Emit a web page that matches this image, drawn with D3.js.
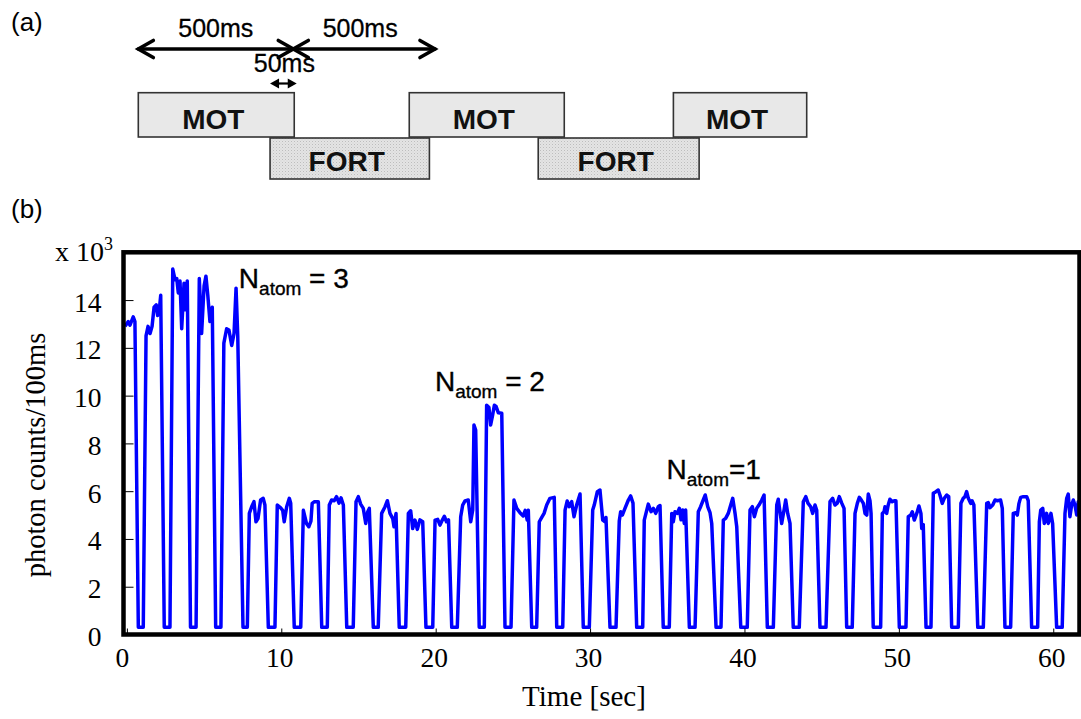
<!DOCTYPE html>
<html>
<head>
<meta charset="utf-8">
<script src="https://cdn.jsdelivr.net/npm/d3@7"></script>
<style>
  body { margin: 0; background: #fff; }
  svg { display: block; }
</style>
</head>
<body>
<svg id="fig" width="1081" height="719"></svg>
<script>
// ---- Timing sequence (ms) ----
const motWindows  = [[0, 503], [874, 1374], [1726, 2156]];
const fortWindows = [[425, 939], [1290, 1809]];
const periodArrows = [[0, 500, "500ms"], [500, 957, "500ms"]];
const overlapArrow = [425, 511, "50ms"];

// ---- Fluorescence trace: [time (s), photon counts per 100 ms (x10^3)] ----
const traceThreeAtoms = [
  [-0.12,12.9],[0.09,13.1],[0.20,12.95],[0.41,13.3],[0.52,13.1],[0.74,0.3],[1.06,0.3],
  [1.24,12.5],[1.37,12.9],[1.50,12.6],[1.63,12.9],[1.76,13.7],[1.90,13.8],[1.99,13.35],[2.10,13.6],[2.19,14.2],[2.42,0.3],[2.79,0.3],
  [2.97,15.3],[3.12,14.85],[3.23,14.9],[3.33,14.3],[3.44,14.8],[3.55,12.8],[3.70,14.7],[3.80,13.6],[3.91,14.8],[4.12,0.3],[4.48,0.3],
  [4.69,14.9],[4.84,12.6],[5.00,14.6],[5.12,15.0],[5.24,14.2],[5.38,13.1],[5.53,13.7],[5.75,0.3],[6.09,0.3],
  [6.28,12.2],[6.46,12.8],[6.61,12.75],[6.79,12.1],[6.94,12.6],[7.07,14.5],[7.18,12.5],[7.52,0.3],[7.80,0.3]
];
const traceMiddle = [
  [7.93,5.07],[8.08,5.35],[8.23,5.56],[8.36,4.72],[8.49,4.85],[8.66,5.63],[8.83,5.70],[8.94,5.42],[9.16,0.3],[9.59,0.3],
  [9.74,5.42],[9.96,5.30],[10.09,5.20],[10.19,4.72],[10.35,5.35],[10.52,5.70],[10.61,5.50],[10.84,0.3],[11.26,0.3],
  [11.43,5.20],[11.54,4.90],[11.63,4.65],[11.78,4.51],[11.92,4.75],[12.00,5.49],[12.15,5.56],[12.40,5.56],[12.62,0.3],[12.98,0.3],
  [13.11,5.42],[13.26,5.63],[13.43,5.60],[13.58,5.77],[13.74,5.50],[13.87,5.72],[14.02,5.42],[14.24,0.3],[14.66,0.3],
  [14.84,5.56],[14.99,5.77],[15.14,5.46],[15.31,5.28],[15.47,4.65],[15.60,5.14],[15.70,5.28],[15.96,0.3],[16.28,0.3],
  [16.50,5.07],[16.72,5.35],[16.87,5.60],[17.04,5.07],[17.22,4.85],[17.30,4.51],[17.43,5.07],[17.64,0.3],[18.06,0.3],
  [18.23,5.07],[18.38,5.18],[18.51,4.44],[18.66,4.79],[18.81,4.40],[18.98,4.80],[19.16,4.72],[19.37,0.3],[19.81,0.3],
  [19.96,4.79],[20.13,4.82],[20.28,4.58],[20.43,4.79],[20.56,4.95],[20.70,4.72],[20.83,4.80],[21.04,0.3],[21.40,0.3],
  [21.62,4.93],[21.75,5.42],[21.90,5.59],[22.11,5.63],[22.27,4.72],[22.40,5.21],[22.48,8.77],[22.59,8.56],[22.82,0.3],[23.15,0.3],
  [23.30,9.60],[23.45,9.50],[23.56,8.77],[23.69,9.19],[23.80,9.60],[23.91,9.55],[24.06,9.28],[24.28,9.26],[24.49,0.3],[24.88,0.3]
];
const traceOneAtom = [
  [25.07,5.63],[25.25,5.28],[25.46,5.10],[25.67,4.96],[25.80,5.20],[25.93,4.79],[26.00,5.20],[26.22,0.3],[26.54,0.3],
  [26.71,4.72],[26.87,4.90],[27.02,5.07],[27.19,5.42],[27.40,5.70],[27.68,5.74],[27.84,0.3],[28.23,0.3],
  [28.38,5.21],[28.52,5.59],[28.65,5.35],[28.81,5.56],[28.96,4.93],[29.13,5.42],[29.35,5.88],[29.56,0.3],[29.95,0.3],
  [30.17,5.21],[30.27,5.42],[30.47,5.98],[30.64,6.05],[30.82,4.79],[30.97,4.72],[31.03,4.90],[31.29,0.3],[31.68,0.3],
  [31.89,4.75],[31.98,5.14],[32.09,5.00],[32.26,5.28],[32.48,5.63],[32.63,5.80],[32.78,5.50],[33.02,0.3],[33.41,0.3],
  [33.51,4.79],[33.62,5.07],[33.77,5.46],[33.95,5.14],[34.10,5.28],[34.25,5.07],[34.42,5.35],[34.53,5.40],[34.74,0.3],[35.13,0.3],
  [35.29,5.07],[35.39,4.72],[35.50,5.14],[35.65,5.07],[35.78,5.28],[35.89,4.80],[36.00,5.21],[36.10,4.65],[36.19,5.21],[36.43,0.3],[36.80,0.3],
  [37.01,5.14],[37.16,5.35],[37.33,5.63],[37.46,5.84],[37.62,5.35],[37.77,5.10],[37.88,4.65],[38.16,0.3],[38.48,0.3],
  [38.63,4.79],[38.78,4.86],[38.95,5.07],[39.11,5.42],[39.24,5.70],[39.39,5.07],[39.50,4.51],[39.76,0.3],[40.18,0.3],
  [40.36,5.21],[40.51,5.35],[40.64,4.93],[40.79,5.28],[40.94,5.42],[41.12,5.63],[41.27,5.84],[41.48,0.3],[41.87,0.3],
  [42.09,5.42],[42.19,5.66],[42.30,5.14],[42.41,4.65],[42.56,5.20],[42.67,5.63],[42.80,5.07],[42.95,4.65],[43.16,0.3],[43.55,0.3],
  [43.81,5.56],[43.97,5.77],[44.11,5.50],[44.29,5.35],[44.42,5.07],[44.57,5.42],[44.68,5.20],[44.89,0.3],[45.28,0.3],
  [45.54,5.56],[45.71,5.70],[45.86,5.42],[46.01,5.50],[46.14,5.77],[46.30,5.50],[46.45,5.28],[46.62,0.3],[46.98,0.3],
  [47.16,5.07],[47.31,5.49],[47.44,5.74],[47.55,5.65],[47.70,5.49],[47.81,5.07],[47.92,5.00],[48.02,5.88],[48.13,5.60],[48.20,5.07],[48.34,0.3],[48.82,0.3],
  [48.93,5.07],[49.04,5.14],[49.10,5.35],[49.21,5.07],[49.31,5.42],[49.42,5.66],[49.57,5.56],[49.70,5.60],[49.81,5.60],[50.03,0.3],[50.46,0.3],
  [50.61,4.93],[50.77,5.00],[50.87,5.14],[51.00,4.79],[51.16,5.07],[51.30,5.38],[51.43,5.07],[51.48,4.44],[51.58,4.60],[51.76,0.3],[52.08,0.3],
  [52.23,5.91],[52.40,5.98],[52.55,6.05],[52.66,5.84],[52.81,5.49],[52.94,5.70],[53.10,5.84],[53.23,5.77],[53.42,0.3],[53.85,0.3],
  [54.02,5.49],[54.17,5.70],[54.28,5.77],[54.39,5.98],[54.50,5.70],[54.65,5.49],[54.74,5.60],[54.86,5.42],[55.11,0.3],[55.47,0.3],
  [55.69,5.49],[55.79,5.52],[55.90,5.31],[56.08,5.42],[56.23,5.63],[56.38,5.60],[56.59,5.63],[56.70,5.28],[56.87,0.3],[57.24,0.3],
  [57.41,5.07],[57.57,5.10],[57.67,5.00],[57.78,5.49],[57.89,5.74],[58.06,5.77],[58.28,5.77],[58.38,5.60],[58.60,0.3],[58.99,0.3],
  [59.10,4.72],[59.19,5.21],[59.32,5.28],[59.42,4.65],[59.57,5.07],[59.68,4.65],[59.85,5.07],[59.96,4.65],[60.22,0.3],[60.58,0.3],
  [60.76,5.07],[60.87,5.70],[60.97,5.88],[61.08,4.93],[61.19,5.42],[61.30,5.63],[61.41,5.40],[61.52,5.00],[61.62,5.56],[61.73,5.42]
];

const xTicks = [0, 10, 20, 30, 40, 50, 60];
const yTicks = [0, 2, 4, 6, 8, 10, 12, 14];
const atomLabels = [
  { t: 7.25, v: 14.5, n: "3", sep: " = " },
  { t: 19.95, v: 10.2, n: "2", sep: " = " },
  { t: 34.95, v: 6.5, n: "1", sep: "=" }
];

const sans = "'Liberation Sans', Arial, Helvetica, sans-serif";
const serif = "'Liberation Serif', 'Times New Roman', Times, serif";

const svg = d3.select("#fig");
const defs = svg.append("defs");

// stippled fill used for the FORT boxes
const pat = defs.append("pattern").attr("id", "stipple")
  .attr("width", 3).attr("height", 3).attr("patternUnits", "userSpaceOnUse");
pat.append("rect").attr("width", 3).attr("height", 3).attr("fill", "#e4e4e4");
pat.append("rect").attr("width", 1).attr("height", 1).attr("fill", "#bdbdbd");
pat.append("rect").attr("x", 1.5).attr("y", 1.5).attr("width", 1).attr("height", 1).attr("fill", "#d0d0d0");

// regular sans text, optionally a touch heavier
function sansText(sel, size, weight) {
  sel.attr("font-family", sans).attr("font-size", size).attr("fill", "#000");
  if (weight) sel.attr("stroke", "#000").attr("stroke-width", weight);
  return sel;
}

// ================= (a) timing diagram =================
const seq = d3.scaleLinear().domain([0, 2156]).range([138.3, 806.7]);
const motRow = { y: 92.7, h: 44.3 };
const fortRow = { y: 138, h: 41 };

sansText(svg.append("text").attr("x", 11).attr("y", 31), 26).text("(a)");
sansText(svg.append("text").attr("x", 11).attr("y", 218), 26).text("(b)");

const boxes = svg.append("g");
function drawBoxes(list, row, fill, label) {
  const g = boxes.selectAll(null).data(list).enter().append("g");
  g.append("rect")
    .attr("x", d => seq(d[0])).attr("y", row.y)
    .attr("width", d => seq(d[1]) - seq(d[0])).attr("height", row.h)
    .attr("fill", fill).attr("stroke", "#333").attr("stroke-width", 1.6);
  g.append("text")
    .attr("x", d => (seq(d[0]) + seq(d[1])) / 2 - 3)
    .attr("y", row.y + row.h - 8)
    .attr("text-anchor", "middle").attr("font-family", sans)
    .attr("font-weight", "bold").attr("font-size", 28).attr("fill", "#111")
    .text(label);
}
drawBoxes(fortWindows, fortRow, "url(#stipple)", "FORT");
drawBoxes(motWindows, motRow, "#e8e8e8", "MOT");

// double-headed arrows with open chevron heads
const arrowY = 49;
const ag = svg.append("g").attr("stroke", "#000").attr("stroke-width", 3.6)
  .attr("fill", "none").attr("stroke-linecap", "round");
periodArrows.forEach(a => {
  const x0 = seq(a[0]), x1 = seq(a[1]);
  ag.append("line").attr("x1", x0).attr("x2", x1).attr("y1", arrowY).attr("y2", arrowY);
  ag.append("path").attr("d", `M${x0 + 15},${arrowY - 8.5} L${x0},${arrowY} L${x0 + 15},${arrowY + 8.5}`);
  ag.append("path").attr("d", `M${x1 - 15},${arrowY - 8.5} L${x1},${arrowY} L${x1 - 15},${arrowY + 8.5}`);
  sansText(svg.append("text").attr("x", (x0 + x1) / 2 + (a[0] === 0 ? 0 : -4)).attr("y", 37), 25, 0.3)
    .attr("text-anchor", "middle").text(a[2]);
});

// short overlap arrow with filled heads
{
  const x0 = seq(overlapArrow[0]), x1 = seq(overlapArrow[1]), yy = 83.5;
  svg.append("line").attr("x1", x0 + 4).attr("x2", x1 - 4).attr("y1", yy).attr("y2", yy)
    .attr("stroke", "#000").attr("stroke-width", 2.2);
  svg.append("path").attr("d", `M${x0},${yy} L${x0 + 9},${yy - 5} L${x0 + 9},${yy + 5}Z`).attr("fill", "#000");
  svg.append("path").attr("d", `M${x1},${yy} L${x1 - 9},${yy - 5} L${x1 - 9},${yy + 5}Z`).attr("fill", "#000");
  sansText(svg.append("text").attr("x", (x0 + x1) / 2 + 1).attr("y", 72), 25, 0.3)
    .attr("text-anchor", "middle").text(overlapArrow[2]);
}

// ================= (b) photon count trace =================
const x = d3.scaleLinear().domain([-0.22, 61.70]).range([123.5, 1079.5]);
const y = d3.scaleLinear().domain([0, 16]).range([634.5, 252.3]);

defs.append("clipPath").attr("id", "plotClip").append("rect")
  .attr("x", x.range()[0]).attr("y", y.range()[1])
  .attr("width", x.range()[1] - x.range()[0]).attr("height", y.range()[0] - y.range()[1]);

const trace = traceThreeAtoms.concat(traceMiddle, traceOneAtom);
const line = d3.line().x(d => x(d[0])).y(d => y(d[1]));

svg.append("path").datum(trace)
  .attr("clip-path", "url(#plotClip)")
  .attr("d", line)
  .attr("fill", "none").attr("stroke", "#0000ff").attr("stroke-width", 3.5)
  .attr("stroke-linejoin", "round");

// axes: inward ticks, serif labels
const yAxis = svg.append("g").attr("transform", `translate(${x.range()[0]},0)`)
  .call(d3.axisLeft(y).tickValues(yTicks).tickSizeInner(-10).tickSizeOuter(0).tickPadding(22));
const xAxis = svg.append("g").attr("transform", `translate(0,${y.range()[0]})`)
  .call(d3.axisBottom(x).tickValues(xTicks).tickSizeInner(-6).tickSizeOuter(0).tickPadding(13));
[yAxis, xAxis].forEach(g => {
  g.select(".domain").remove();
  g.selectAll(".tick line").attr("stroke", "#000").attr("stroke-width", 1);
  g.selectAll("text").attr("font-family", serif).attr("font-size", 27.5).attr("fill", "#000");
});
yAxis.selectAll("text").attr("dy", "0.4em");
xAxis.selectAll("text").attr("dx", d => d === 0 ? -5 : -2);

// heavy plot frame
svg.append("rect")
  .attr("x", x.range()[0]).attr("y", y.range()[1])
  .attr("width", x.range()[1] - x.range()[0]).attr("height", y.range()[0] - y.range()[1])
  .attr("fill", "none").attr("stroke", "#000").attr("stroke-width", 4.5);

// scale factor above the y axis
const sf = svg.append("text").attr("x", 55).attr("y", 261)
  .attr("font-family", serif).attr("font-size", 28).attr("fill", "#000");
sf.append("tspan").text("x 10");
sf.append("tspan").attr("font-size", 18).attr("dy", -11).text("3");

// axis titles
svg.append("text")
  .attr("transform", "translate(45,455) rotate(-90)")
  .attr("text-anchor", "middle").attr("font-family", serif).attr("font-size", 28.5)
  .text("photon counts/100ms");
svg.append("text").attr("x", 584).attr("y", 706)
  .attr("text-anchor", "middle").attr("font-family", serif).attr("font-size", 29)
  .text("Time [sec]");

// atom-number annotations
atomLabels.forEach(d => {
  const t = sansText(svg.append("text").attr("x", x(d.t)).attr("y", y(d.v)), 28, 0.35);
  t.append("tspan").text("N");
  t.append("tspan").attr("font-size", 19).attr("dy", 7).text("atom");
  t.append("tspan").attr("dy", -7).text(d.sep + d.n);
});
</script>
</body>
</html>
